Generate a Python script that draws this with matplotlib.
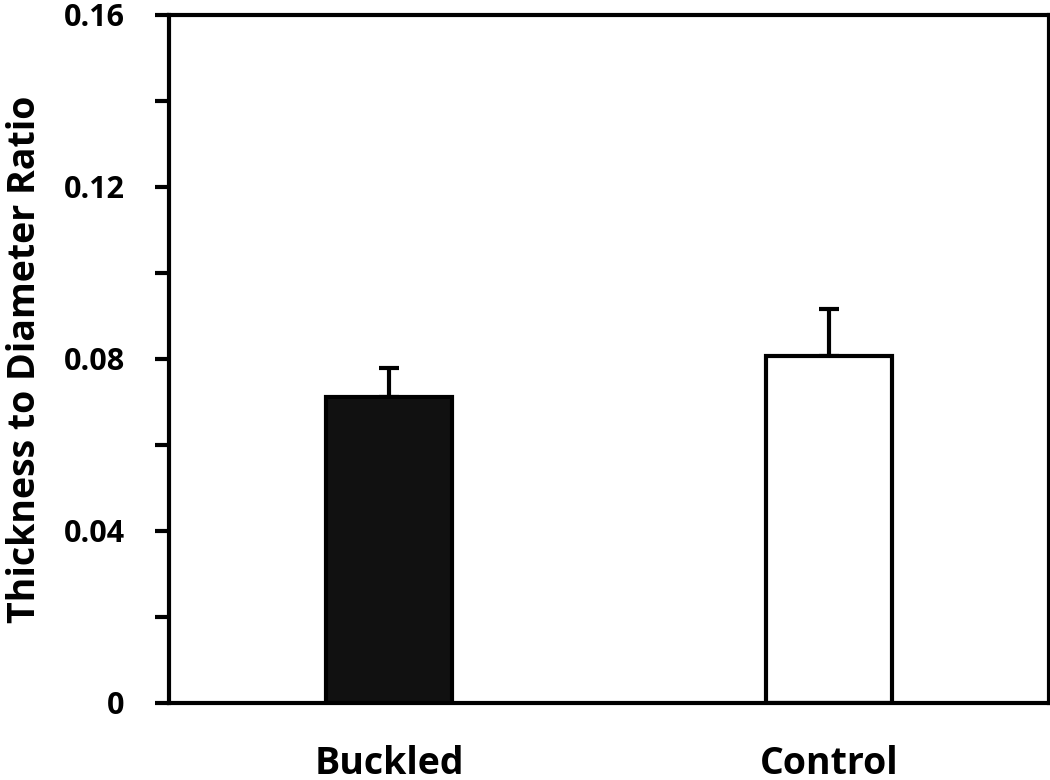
import matplotlib
matplotlib.use('Agg')
import matplotlib.pyplot as plt

# data
groups = ['Buckled', 'Control']
ratio = [0.0712, 0.0808]
ratio_err = [0.0068, 0.0109]
bar_colors = ['#111111', 'white']
y_ticks = [0, 0.04, 0.08, 0.12, 0.16]
y_tick_labels = ['0', '0.04', '0.08', '0.12', '0.16']
y_minor = [0.02, 0.06, 0.10, 0.14]

plt.rcParams['font.family'] = ['Open Sans', 'DejaVu Sans']
plt.rcParams['font.weight'] = 'bold'

fig = plt.figure(figsize=(10.5, 7.8), dpi=100)
ax = fig.add_axes([169 / 1050, 1 - 703 / 780, 880 / 1050, 688 / 780])

x = [0, 1]
ax.bar(x, ratio, width=0.286, color=bar_colors, edgecolor='black', linewidth=3, zorder=2)
ax.errorbar(x, ratio, yerr=[[0, 0], ratio_err], fmt='none', ecolor='black',
            elinewidth=3, capsize=7, capthick=3, zorder=1)

ax.set_xlim(-0.5, 1.5)
ax.set_ylim(0, 0.16)
ax.set_xticks(x)
ax.set_xticklabels(groups, fontsize=27, fontweight='bold')
ax.set_yticks(y_ticks)
ax.set_yticks(y_minor, minor=True)
ax.set_yticklabels(y_tick_labels, fontsize=22, fontweight='bold')
ax.tick_params(axis='x', length=0, pad=30)
ax.tick_params(axis='y', which='both', direction='out', length=10, width=3, pad=22)
ax.set_ylabel('Thickness to Diameter Ratio', fontsize=27, fontweight='bold', labelpad=14)

for s in ax.spines.values():
    s.set_linewidth(3)

fig.savefig('out.png', dpi=100)
